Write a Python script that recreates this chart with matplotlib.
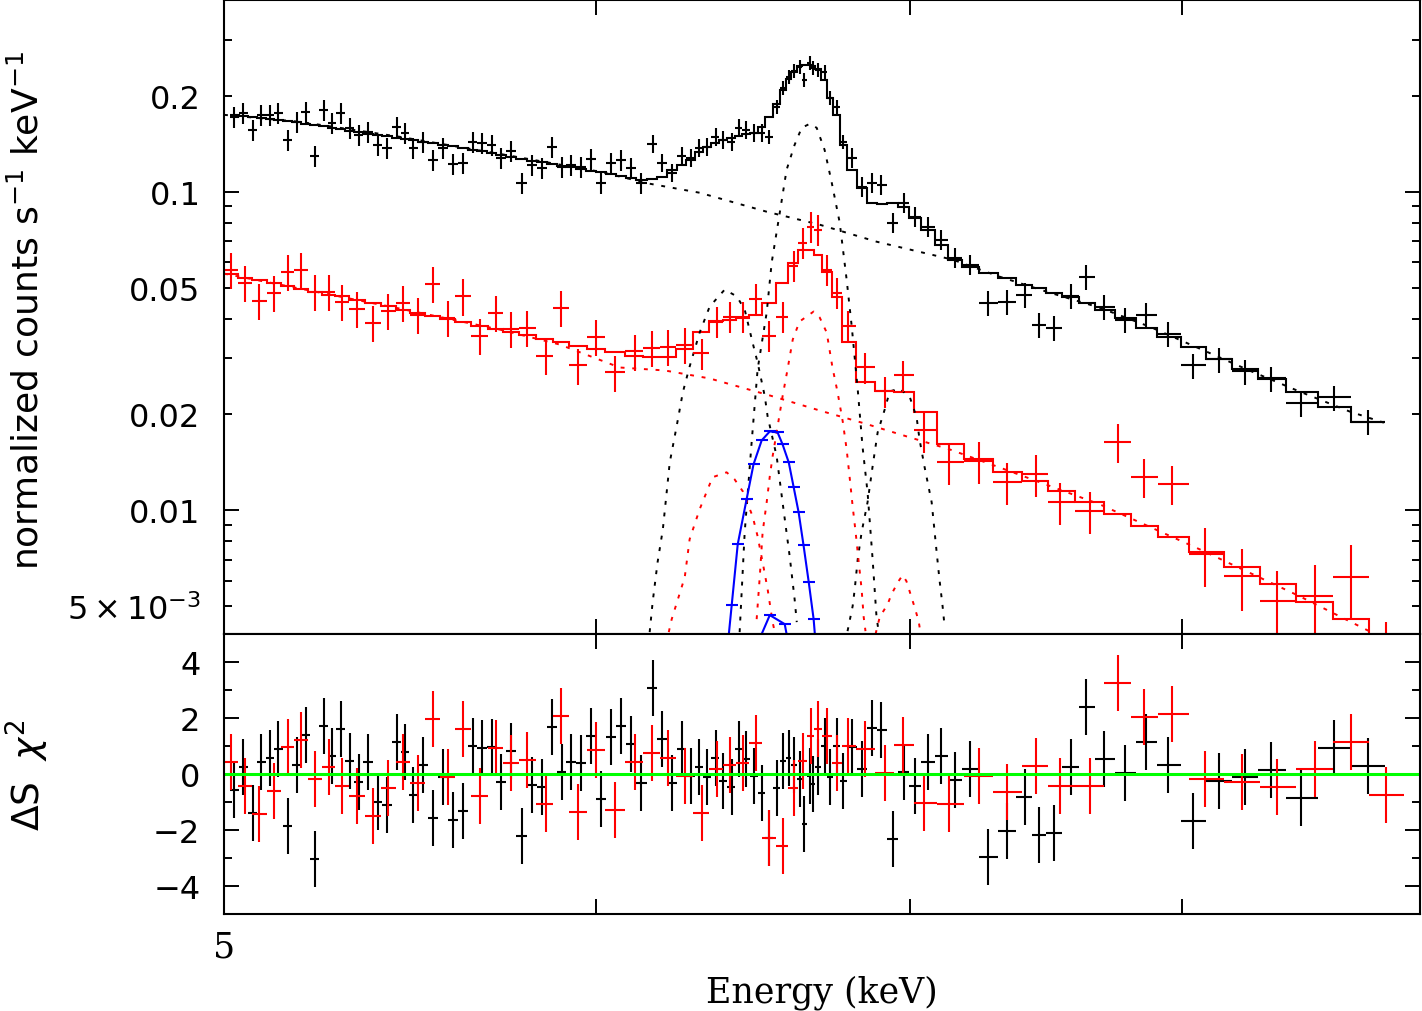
import numpy as np
import matplotlib.pyplot as plt
from matplotlib.ticker import FixedLocator, FixedFormatter, NullLocator

# spectrum 1 (black): bin centres (keV), normalized counts, model, relative error, residuals
black_energy = [5.025, 5.047, 5.072, 5.092, 5.114, 5.134, 5.159, 5.182, 5.205, 5.228,
                5.251, 5.272, 5.295, 5.319, 5.342, 5.366, 5.392, 5.416, 5.443, 5.464,
                5.485, 5.512, 5.539, 5.567, 5.594, 5.621, 5.649, 5.674, 5.702, 5.727,
                5.755, 5.786, 5.815, 5.843, 5.872, 5.901, 5.927, 5.956, 5.986, 6.015,
                6.044, 6.074, 6.104, 6.134, 6.170, 6.197, 6.228, 6.259, 6.286, 6.311,
                6.336, 6.364, 6.386, 6.414, 6.436, 6.458, 6.483, 6.509, 6.531, 6.557,
                6.576, 6.596, 6.612, 6.631, 6.644, 6.664, 6.674, 6.690, 6.713, 6.730,
                6.753, 6.773, 6.803, 6.836, 6.870, 6.903, 6.941, 6.978, 7.016, 7.061,
                7.109, 7.155, 7.208, 7.275, 7.343, 7.405, 7.456, 7.514, 7.574, 7.633,
                7.701, 7.780, 7.861, 7.946, 8.044, 8.147, 8.252, 8.358, 8.482, 8.620,
                8.765]
black_counts = [0.1719, 0.1769, 0.1565, 0.1744, 0.1744, 0.1769, 0.1456, 0.1658, 0.1782, 0.1297,
                0.1808, 0.1646, 0.1769, 0.1588, 0.1509, 0.1542, 0.1404, 0.1374, 0.1599, 0.1531,
                0.1374, 0.1435, 0.1260, 0.1374, 0.1224, 0.1233, 0.1435, 0.1425, 0.1404, 0.1279,
                0.1345, 0.1067, 0.1216, 0.1189, 0.1384, 0.1198, 0.1216, 0.1198, 0.1269, 0.1067,
                0.1233, 0.1260, 0.1189, 0.1067, 0.1415, 0.1233, 0.1147, 0.1297, 0.1279, 0.1374,
                0.1384, 0.1488, 0.1456, 0.1435, 0.1588, 0.1565, 0.1531, 0.1531, 0.1488, 0.1847,
                0.2119, 0.2294, 0.2396, 0.2466, 0.2245, 0.2538, 0.2448, 0.2413, 0.2378, 0.1971,
                0.1847, 0.1435, 0.1279, 0.1037, 0.1067, 0.1052, 0.07997, 0.09239, 0.08351, 0.07773,
                0.07074, 0.06212, 0.05906, 0.04489, 0.04522, 0.04759, 0.03830, 0.03747, 0.04694, 0.05416,
                0.04361, 0.03971, 0.04117, 0.03589, 0.02849, 0.02975, 0.02728, 0.02594, 0.02165, 0.02261,
                0.01888]
black_model = [0.1744, 0.1731, 0.1719, 0.1706, 0.1694, 0.1682, 0.1670, 0.1658, 0.1634, 0.1622,
               0.1611, 0.1588, 0.1576, 0.1554, 0.1542, 0.1520, 0.1509, 0.1498, 0.1477, 0.1466,
               0.1456, 0.1435, 0.1425, 0.1404, 0.1394, 0.1374, 0.1354, 0.1345, 0.1326, 0.1306,
               0.1288, 0.1269, 0.1251, 0.1242, 0.1224, 0.1207, 0.1198, 0.1181, 0.1164, 0.1156,
               0.1139, 0.1123, 0.1107, 0.1091, 0.1099, 0.1115, 0.1172, 0.1216, 0.1260, 0.1335,
               0.1384, 0.1425, 0.1456, 0.1477, 0.1498, 0.1520, 0.1531, 0.1599, 0.1719, 0.1888,
               0.2089, 0.2261, 0.2378, 0.2484, 0.2502, 0.2502, 0.2484, 0.2430, 0.2245, 0.1971,
               0.1744, 0.1404, 0.1172, 0.1030, 0.09239, 0.09172, 0.09239, 0.08976, 0.08291, 0.07603,
               0.06823, 0.06123, 0.05823, 0.05574, 0.05377, 0.05112, 0.05003, 0.04825, 0.04660, 0.04489,
               0.04268, 0.04029, 0.03747, 0.03512, 0.03267, 0.02975, 0.02768, 0.02575, 0.02345, 0.02104,
               0.01888]
black_relerr = [0.075, 0.075, 0.075, 0.075, 0.075, 0.075, 0.075, 0.075, 0.075, 0.075,
                0.075, 0.075, 0.075, 0.075, 0.075, 0.075, 0.075, 0.075, 0.075, 0.075,
                0.075, 0.075, 0.075, 0.075, 0.075, 0.075, 0.075, 0.075, 0.075, 0.075,
                0.075, 0.075, 0.075, 0.075, 0.075, 0.075, 0.075, 0.075, 0.075, 0.075,
                0.075, 0.075, 0.075, 0.075, 0.065, 0.065, 0.065, 0.065, 0.065, 0.065,
                0.065, 0.065, 0.065, 0.065, 0.065, 0.065, 0.065, 0.065, 0.05, 0.05,
                0.05, 0.05, 0.05, 0.05, 0.05, 0.05, 0.05, 0.05, 0.05, 0.05,
                0.05, 0.05, 0.07, 0.07, 0.07, 0.07, 0.07, 0.07, 0.07, 0.07,
                0.07, 0.07, 0.07, 0.09, 0.09, 0.09, 0.09, 0.09, 0.09, 0.09,
                0.09, 0.09, 0.09, 0.09, 0.09, 0.09, 0.09, 0.09, 0.09, 0.09,
                0.09]
black_resid = [-0.57, 0.24, -1.39, 0.44, 0.56, 0.89, -1.85, 0.32, 1.39, -3.04,
               1.70, 0.63, 1.61, 0.45, -0.30, 0.42, -1.01, -1.10, 1.13, 0.77,
               -0.74, 0.32, -1.58, -0.12, -1.64, -1.31, 1.01, 0.93, 0.95, -0.27,
               0.81, -2.23, -0.38, -0.45, 1.67, 0.06, 0.44, 0.39, 1.37, -0.89,
               1.33, 1.73, 1.07, -0.33, 3.06, 1.25, -0.32, 0.89, -0.08, 0.24,
               -0.10, 0.57, -0.24, -0.45, 0.89, 0.54, -0.08, -0.69, -2.30, -0.51,
               0.48, 0.56, 0.32, -0.18, -1.79, -0.06, -0.36, 0.24, 1.01, -0.10,
               1.01, -0.24, 0.95, 0.18, 1.64, 1.58, -2.32, 0.06, -0.42, 0.42,
               0.65, -0.21, 0.18, -2.98, -2.02, -0.83, -2.17, -2.11, 0.24, 2.40,
               0.54, 0.02, 1.15, 0.33, -1.67, -0.24, -0.10, 0.14, -0.86, 0.93,
               0.30]

# spectrum 2 (red)
red_energy = [5.017, 5.052, 5.087, 5.124, 5.159, 5.192, 5.228, 5.264, 5.298, 5.337,
              5.379, 5.419, 5.459, 5.499, 5.539, 5.580, 5.621, 5.668, 5.713, 5.755,
              5.801, 5.855, 5.898, 5.948, 6.000, 6.056, 6.116, 6.167, 6.216, 6.268,
              6.320, 6.367, 6.408, 6.449, 6.490, 6.531, 6.576, 6.612, 6.641, 6.667,
              6.690, 6.720, 6.753, 6.789, 6.846, 6.914, 6.975, 7.050, 7.137, 7.240,
              7.343, 7.445, 7.536, 7.648, 7.754, 7.853, 7.962, 8.092, 8.240, 8.382,
              8.540, 8.692, 8.842]
red_counts = [0.05696, 0.05186, 0.04554, 0.04825, 0.05614, 0.05696, 0.04860, 0.04860, 0.04522, 0.04299,
              0.03886, 0.04237, 0.04489, 0.04117, 0.05149, 0.04029, 0.04694, 0.03537, 0.04177, 0.03721,
              0.03747, 0.03062, 0.04330, 0.02849, 0.03512, 0.02709, 0.03152, 0.03244, 0.03267, 0.03315,
              0.03107, 0.03914, 0.04058, 0.04058, 0.04621, 0.03537, 0.04058, 0.05863, 0.06922, 0.07773,
              0.07603, 0.05696, 0.04825, 0.03803, 0.02808, 0.02362, 0.02651, 0.01782, 0.01414, 0.01424,
              0.01224, 0.01297, 0.01060, 0.00994, 0.01634, 0.01270, 0.01207, 0.00728, 0.00621, 0.00519,
              0.00538, 0.00617, 0.00351]
red_model = [0.05534, 0.05376, 0.05300, 0.05186, 0.05075, 0.04967, 0.04860, 0.04759, 0.04694, 0.04587,
             0.04489, 0.04393, 0.04268, 0.04177, 0.04087, 0.04000, 0.03914, 0.03803, 0.03721, 0.03641,
             0.03563, 0.03462, 0.03388, 0.03291, 0.03198, 0.03130, 0.03062, 0.03019, 0.03040, 0.03198,
             0.03641, 0.03942, 0.03971, 0.04029, 0.04117, 0.04489, 0.05186, 0.05992, 0.06581, 0.06581,
             0.06348, 0.05614, 0.04660, 0.03388, 0.02520, 0.02362, 0.02345, 0.02030, 0.01611, 0.01445,
             0.01316, 0.01233, 0.01147, 0.01060, 0.00972, 0.00891, 0.00823, 0.00739, 0.00663, 0.00586,
             0.00515, 0.00455, 0.00394]
red_relerr = [0.13, 0.13, 0.13, 0.13, 0.13, 0.13, 0.13, 0.13, 0.13, 0.13,
              0.13, 0.13, 0.13, 0.13, 0.13, 0.13, 0.13, 0.13, 0.13, 0.13,
              0.13, 0.13, 0.13, 0.13, 0.13, 0.13, 0.13, 0.13, 0.13, 0.13,
              0.11, 0.11, 0.11, 0.11, 0.11, 0.11, 0.11, 0.11, 0.11, 0.11,
              0.11, 0.11, 0.11, 0.11, 0.11, 0.11, 0.11, 0.15, 0.15, 0.15,
              0.15, 0.15, 0.15, 0.15, 0.14, 0.14, 0.14, 0.21, 0.22, 0.24,
              0.25, 0.26, 0.27]
red_resid = [0.44, -0.42, -1.43, -0.62, 0.98, 1.23, -0.18, 0.24, -0.42, -0.77,
             -1.49, -0.51, 0.44, -0.32, 1.96, -0.10, 1.61, -0.80, 0.93, 0.39,
             0.51, -1.07, 2.06, -1.35, 0.86, -1.27, 0.44, 0.75, 0.57, -0.06,
             -1.39, 0.18, 0.33, 0.39, 1.11, -2.30, -2.56, -0.51, 0.45, 1.37,
             1.61, 1.37, 0.39, 0.99, 0.89, 0.04, 1.04, -1.05, -1.07, -0.06,
             -0.64, 0.30, -0.44, -0.42, 3.24, 2.02, 2.14, -0.18, -0.30, -0.45,
             0.18, 1.15, -0.75]

# model components (dotted curves)
black_cont_e = [5.000, 5.190, 5.450, 5.724, 6.012, 6.161, 6.314, 6.525, 6.697, 6.886,
                7.148, 7.314, 7.496, 7.682, 7.872, 8.068, 8.268, 8.473, 8.684, 8.855]
black_cont_f = [0.1744, 0.1658, 0.1488, 0.1315, 0.1156, 0.1060, 0.09931, 0.08658, 0.07882, 0.06973,
                0.06123, 0.05416, 0.04825, 0.04330, 0.03775, 0.03221, 0.02748, 0.02362, 0.02044, 0.01861]
black_line1_e = [6.161, 6.170, 6.185, 6.201, 6.222, 6.243, 6.262, 6.283, 6.314, 6.345, 6.392,
                 6.430, 6.455, 6.480, 6.496, 6.519, 6.528, 6.557, 6.576, 6.599, 6.615, 6.622]
black_line1_f = [0.004146, 0.005149, 0.006872, 0.008721, 0.01414, 0.01834, 0.02345, 0.02828, 0.03615,
                 0.04361, 0.04931, 0.04694, 0.04268, 0.03363, 0.02911, 0.02278, 0.01972, 0.01477,
                 0.01060, 0.007176, 0.005262, 0.004457]
black_line2_e = [6.439, 6.455, 6.477, 6.496, 6.525, 6.541, 6.567, 6.589, 6.615, 6.638, 6.664, 6.687,
                 6.713, 6.736, 6.763, 6.786, 6.803, 6.823, 6.839, 6.856, 6.873, 6.886, 6.893]
black_line2_f = [0.004146, 0.008534, 0.01634, 0.02768, 0.04177, 0.05992, 0.08596, 0.1172, 0.1404,
                 0.1588, 0.1634, 0.1588, 0.1354, 0.1075, 0.07997, 0.05300, 0.03775, 0.02396,
                 0.01588, 0.01139, 0.007023, 0.004654, 0.004176]
black_line3_e = [6.789, 6.806, 6.813, 6.823, 6.836, 6.856, 6.873, 6.890, 6.914, 6.931, 6.965,
                 7.000, 7.023, 7.033, 7.050, 7.075, 7.092, 7.102, 7.113, 7.120]
black_line3_f = [0.004176, 0.005002, 0.005655, 0.007023, 0.008534, 0.01060, 0.01374, 0.01756, 0.02074,
                 0.02362, 0.02413, 0.02261, 0.01958, 0.01670, 0.01374, 0.01060, 0.007440, 0.006079,
                 0.005002, 0.004330]
red_cont_e = [5.000, 5.190, 5.450, 5.724, 5.895, 6.071, 6.207, 6.345, 6.535, 6.707, 6.846, 6.988,
              7.137, 7.314, 7.682, 8.068, 8.473, 8.855]
red_cont_f = [0.05534, 0.04967, 0.04299, 0.03694, 0.03315, 0.02808, 0.02748, 0.02594, 0.02294,
              0.02044, 0.01874, 0.01707, 0.01554, 0.01364, 0.01045, 0.00755, 0.00538, 0.003884]
red_line1_e = [6.219, 6.228, 6.268, 6.283, 6.314, 6.354, 6.398, 6.423, 6.449, 6.480, 6.496,
               6.512, 6.528, 6.544, 6.551]
red_line1_f = [0.004146, 0.004554, 0.00617, 0.008113, 0.01008, 0.01270, 0.01316, 0.01251, 0.01147,
               0.009583, 0.008291, 0.006872, 0.005655, 0.004457, 0.004146]
red_line2_e = [6.493, 6.503, 6.512, 6.525, 6.535, 6.544, 6.560, 6.576, 6.592, 6.609, 6.631, 6.677,
               6.697, 6.720, 6.739, 6.756, 6.773, 6.786, 6.796, 6.806, 6.816, 6.826, 6.836, 6.843,
               6.849]
red_line2_f = [0.004554, 0.00621, 0.008534, 0.01060, 0.01279, 0.01477, 0.01834, 0.02278, 0.02768,
               0.03437, 0.03914, 0.04207, 0.04029, 0.03615, 0.02808, 0.02345, 0.01901, 0.01554,
               0.01270, 0.01030, 0.008534, 0.006922, 0.005655, 0.004621, 0.004176]
red_line3_e = [6.883, 6.897, 6.924, 6.937, 6.961, 6.975, 6.988, 7.002, 7.016, 7.030, 7.037]
red_line3_f = [0.00409, 0.004621, 0.005075, 0.005455, 0.005992, 0.006257, 0.005992, 0.005455,
               0.004967, 0.004489, 0.00409]
# blue curve: first and last points are where it meets the lower axis
blue_e = [6.405, 6.414, 6.433, 6.461, 6.483, 6.509, 6.535, 6.560, 6.576, 6.596, 6.612, 6.628,
          6.644, 6.661, 6.677, 6.681]
blue_f = [0.00409, 0.005039, 0.007826, 0.01083, 0.01394, 0.01658, 0.01769, 0.01756, 0.01611,
          0.01414, 0.01181, 0.00986, 0.007769, 0.005949, 0.004554, 0.00409]
blue2_e = [6.509, 6.535, 6.583, 6.589]
blue2_f = [0.00409, 0.004688, 0.004393, 0.00409]


def bin_edges(e):
    e = np.asarray(e)
    mid = np.sqrt(e[:-1] * e[1:])
    return np.concatenate([[e[0] ** 2 / mid[0]], mid, [e[-1] ** 2 / mid[-1]]])


W, H = 1422, 1012
fig = plt.figure(figsize=(W / 100, H / 100), dpi=100)
ax = fig.add_axes([224 / W, 1 - 635 / H, 1196 / W, 634 / H])
axr = fig.add_axes([224 / W, 1 - 915 / H, 1196 / W, 280 / H], sharex=ax)

dots = (0, (2, 4))
lw = 1.5

for e, c, m, rel, res, col in [(black_energy, black_counts, black_model, black_relerr, black_resid, 'black'),
                               (red_energy, red_counts, red_model, red_relerr, red_resid, 'red')]:
    e = np.array(e)
    c = np.array(c)
    edges = bin_edges(e)
    xerr = [e - edges[:-1], edges[1:] - e]
    ax.errorbar(e, c, xerr=xerr, yerr=c * np.array(rel), fmt='none', ecolor=col,
                elinewidth=lw, capsize=0)
    ax.stairs(m, edges, color=col, lw=lw, baseline=None)
    axr.errorbar(e, res, xerr=xerr, yerr=np.ones(len(e)), fmt='none', ecolor=col,
                 elinewidth=lw, capsize=0)
    if col == 'black':
        for xe, fe in [(black_cont_e, black_cont_f), (black_line1_e, black_line1_f),
                       (black_line2_e, black_line2_f), (black_line3_e, black_line3_f)]:
            ax.plot(xe, fe, color='black', lw=1.4, ls=dots)

for xe, fe in [(red_cont_e, red_cont_f), (red_line1_e, red_line1_f),
               (red_line2_e, red_line2_f), (red_line3_e, red_line3_f)]:
    ax.plot(xe, fe, color='red', lw=1.4, ls=dots)

ax.plot(blue_e, blue_f, color='blue', lw=lw, marker='_', ms=9, mew=1.5,
        markevery=slice(1, len(blue_e) - 1))
ax.plot(blue2_e, blue2_f, color='blue', lw=lw, marker='_', ms=9, mew=1.5,
        markevery=[1, 2])

axr.axhline(0, color='#00ff00', lw=2.2)

# axes formatting
ax.set_xscale('log')
ax.set_xlim(5, 8.99)
ax.set_yscale('log')
ax.set_ylim(0.00409, 0.4)
ax.yaxis.set_major_locator(FixedLocator([0.01, 0.1]))
ax.yaxis.set_major_formatter(FixedFormatter(['0.01', '0.1']))
ymin = [0.005, 0.006, 0.007, 0.008, 0.009, 0.02, 0.03, 0.04, 0.05, 0.06, 0.07, 0.08, 0.09, 0.2, 0.3]
ylab = [r'$5\times10^{-3}$', '', '', '', '', '0.02', '', '', '0.05', '', '', '', '', '0.2', '']
ax.yaxis.set_minor_locator(FixedLocator(ymin))
ax.yaxis.set_minor_formatter(FixedFormatter(ylab))

axr.set_ylim(-5, 5)
axr.yaxis.set_major_locator(FixedLocator([-4, -2, 0, 2, 4]))
axr.yaxis.set_minor_locator(FixedLocator([-3, -1, 1, 3]))
axr.xaxis.set_major_locator(FixedLocator([5, 6, 7, 8]))
axr.xaxis.set_major_formatter(FixedFormatter(['5', '', '', '']))
axr.xaxis.set_minor_locator(NullLocator())

for a in (ax, axr):
    for s in a.spines.values():
        s.set_linewidth(1.5)
    a.tick_params(which='both', direction='in', top=True, right=True, width=1.4,
                  labelsize=23, pad=17)
    a.tick_params(which='major', length=11)
    a.tick_params(which='minor', length=6)
ax.tick_params(axis='x', labelbottom=False)
axr.tick_params(axis='x', pad=11, labelsize=25, labelfontfamily='DejaVu Serif')

fig.text(27 / W, 1 - 310 / H, r'normalized counts s$^{-1}$ keV$^{-1}$', rotation=90,
         ha='center', va='center', fontsize=26)
fig.text(27 / W, 1 - 775 / H, r'$\Delta$S $\;\chi^{2}$', rotation=90,
         ha='center', va='center', fontsize=27)
fig.text(822 / W, 1 - 993 / H, 'Energy (keV)', ha='center', va='center',
         fontsize=25, family='DejaVu Serif')

fig.savefig('out.png', dpi=100)
